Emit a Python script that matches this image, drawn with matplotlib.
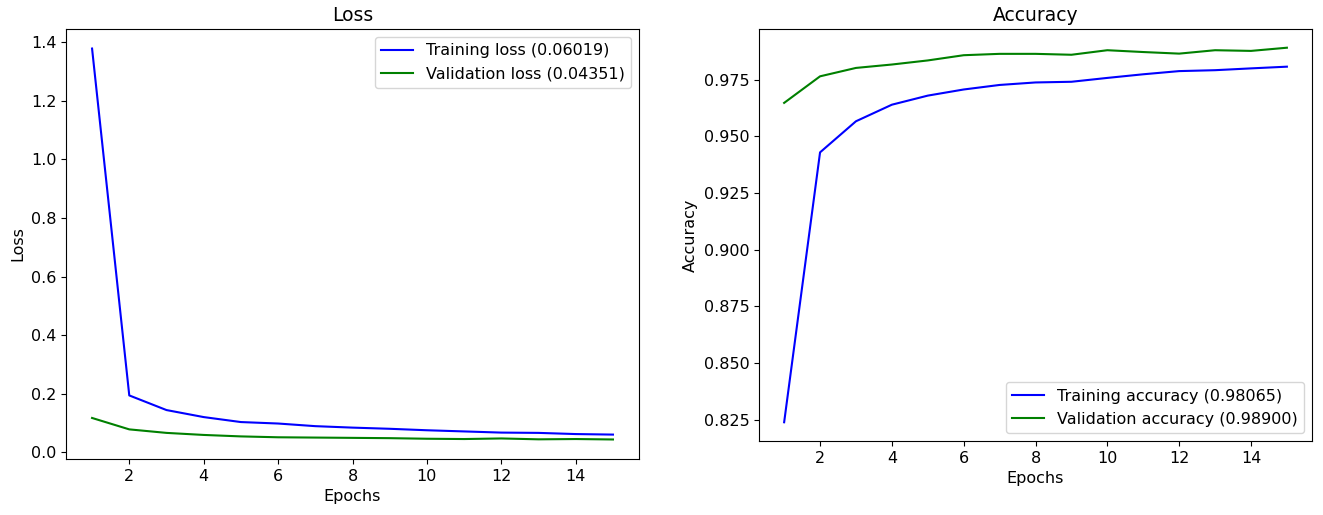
import matplotlib
matplotlib.use('Agg')
import matplotlib.pyplot as plt

epochs = list(range(1, 16))

train_loss = [1.379, 0.194, 0.144, 0.120, 0.103, 0.098, 0.089, 0.084,
              0.080, 0.075, 0.071, 0.067, 0.066, 0.062, 0.06019]
val_loss = [0.117, 0.078, 0.066, 0.059, 0.054, 0.051, 0.050, 0.049,
            0.048, 0.046, 0.045, 0.047, 0.044, 0.045, 0.04351]

train_acc = [0.8240, 0.9429, 0.9566, 0.9639, 0.9679, 0.9706, 0.9726, 0.9737,
             0.9740, 0.9757, 0.9773, 0.9787, 0.9791, 0.9799, 0.98065]
val_acc = [0.9647, 0.9764, 0.9801, 0.9816, 0.9834, 0.9857, 0.9863, 0.9863,
           0.9859, 0.9879, 0.9871, 0.9864, 0.9879, 0.9876, 0.98900]

plt.rcParams['font.size'] = 11.5
plt.rcParams['axes.titlesize'] = 13.5

fig = plt.figure(figsize=(13.23, 5.15), dpi=100)

# loss
ax1 = fig.add_axes([0.0499, 0.1087, 0.4331, 0.8350])
ax1.plot(epochs, train_loss, 'b', label=f'Training loss ({train_loss[-1]:.5f})')
ax1.plot(epochs, val_loss, 'g', label=f'Validation loss ({val_loss[-1]:.5f})')
ax1.set_title('Loss')
ax1.set_xlabel('Epochs')
ax1.set_ylabel('Loss')
ax1.legend(loc='upper right')

# accuracy
ax2 = fig.add_axes([0.5737, 0.1437, 0.4180, 0.8000])
ax2.plot(epochs, train_acc, 'b', label=f'Training accuracy ({train_acc[-1]:.5f})')
ax2.plot(epochs, val_acc, 'g', label=f'Validation accuracy ({val_acc[-1]:.5f})')
ax2.set_title('Accuracy')
ax2.set_xlabel('Epochs')
ax2.set_ylabel('Accuracy')
ax2.legend(loc='lower right')

fig.savefig('out.png', dpi=100)
